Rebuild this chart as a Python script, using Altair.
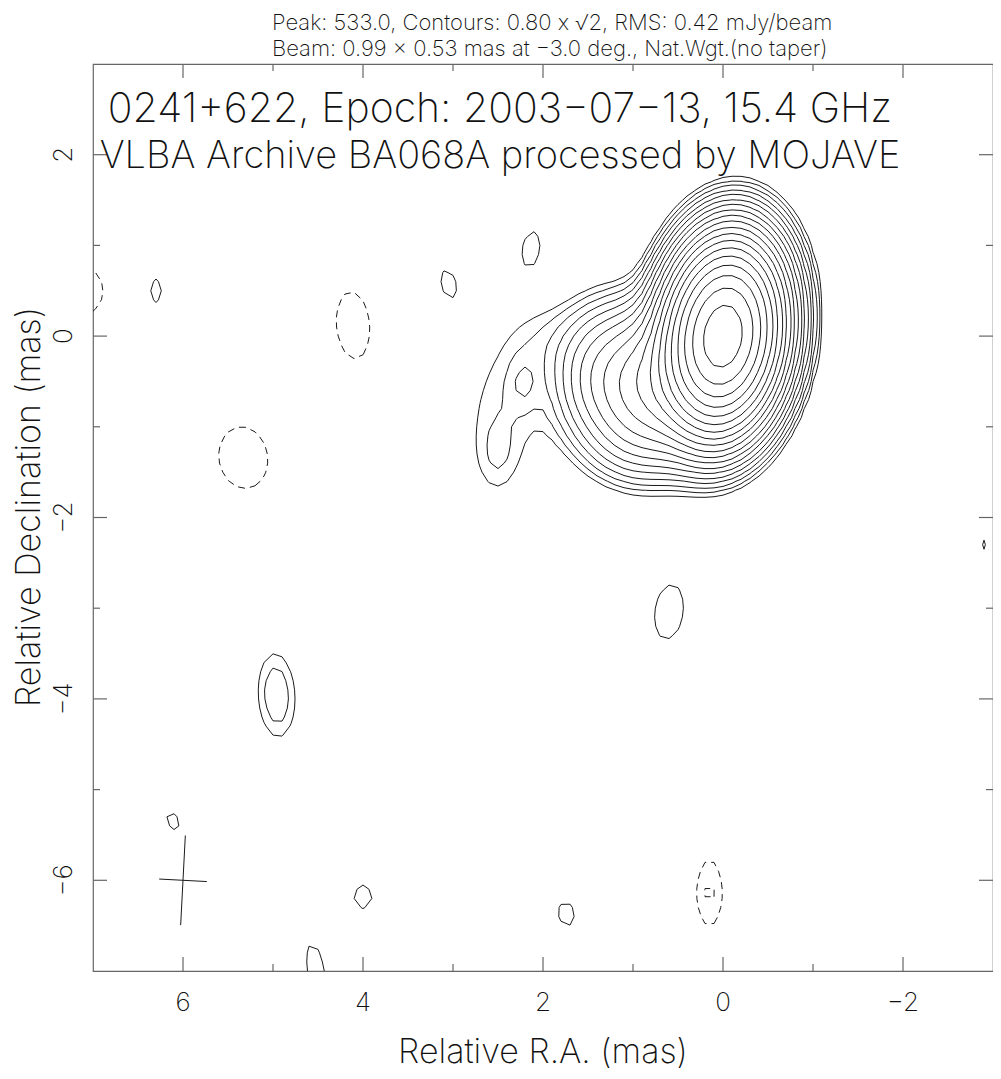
import numpy as np
import pandas as pd
import altair as alt

alt.data_transformers.disable_max_rows()

# ---------------- text ----------------
title_lines = ["Peak: 533.0, Contours: 0.80 x \u221a2, RMS: 0.42 mJy/beam",
               "Beam: 0.99 x 0.53 mas at \u22123.0 deg., Nat.Wgt.(no taper)"]
label_lines = ["0241+622, Epoch: 2003\u221207\u221213, 15.4 GHz",
               "VLBA Archive BA068A processed by MOJAVE"]
x_title = "Relative R.A. (mas)"
y_title = "Relative Declination (mas)"

# ---------------- map parameters ----------------
PEAK = 533.0
BASE_LEVEL = 0.80          # lowest contour (mJy/beam)
LEVEL_STEP = np.sqrt(2.0)  # contour factor
BEAM_MAJ = 0.99
BEAM_MIN = 0.53
BEAM_PA = -3.0
BEAM_CENTER = [6.0, -6.0]
PIXEL = 0.1                # map pixel (mas)

RA_RANGE = [7.0, -3.0]
DEC_RANGE = [-7.0, 3.0]
RA_MAJOR = [6, 4, 2, 0, -2]
RA_MINOR = [5, 3, 1, -1]
DEC_MAJOR = [2, 0, -2, -4, -6]
DEC_MINOR = [1, -1, -3, -5]
RA_LABELS = ["6", "4", "2", "0", "\u22122"]
DEC_LABELS = ["2", "0", "\u22122", "\u22124", "\u22126"]

# ---------------- brightness components ----------------
# flux (mJy/beam), RA offset, Dec offset, sigma major, sigma minor (mas), PA (deg)
comp_flux = [525.0, 22.0, 7.0, 0.95, 0.80, 0.75, 1.5, 0.60,
             1.0, 1.0, 1.05, -1.08, -1.10, -1.1, 1.5, 1.0, 1.0, 1.1, 1.1, 1.0, -1.2, 0.85]
comp_ra = [0.0, 0.80, 1.35, 2.40, 2.22, 2.52, 1.10, 2.00,
           6.30, 3.05, 2.13, 4.11, 5.33, 7.05, 4.96, 6.11, 4.00, 4.52, 0.60, 1.74, 0.15, -2.90]
comp_dec = [0.0, -0.55, -0.45, -0.70, -0.52, -1.38, -1.15, 0.00,
            0.50, 0.58, 0.97, 0.12, -1.34, 0.50, -3.96, -5.35, -6.18, -7.00, -3.04, -6.37, -6.14, -2.30]
comp_maj = [0.49, 0.45, 0.45, 0.60, 0.20, 0.34, 0.30, 0.30,
            0.20, 0.22, 0.25, 0.48, 0.43, 0.30, 0.41, 0.16, 0.20, 0.38, 0.38, 0.20, 0.40, 0.20]
comp_min = [0.30, 0.32, 0.30, 0.40, 0.11, 0.19, 0.30, 0.30,
            0.11, 0.12, 0.13, 0.24, 0.34, 0.20, 0.18, 0.11, 0.15, 0.12, 0.20, 0.14, 0.16, 0.10]
comp_pa = [-7.5, 0.0, 0.0, 0.0, 0.0, 0.0, 90.0, 0.0,
           0.0, 15.0, -10.0, 5.0, 10.0, 0.0, 3.0, 30.0, 0.0, 10.0, -8.0, 10.0, 0.0, 0.0]

# ---------------- model image on the map grid ----------------
xs = np.round(np.arange(-3.0, 7.0 + 1e-9, PIXEL), 4)
ys = np.round(np.arange(-7.0, 3.0 + 1e-9, PIXEL), 4)
GX, GY = np.meshgrid(xs, ys)
Z = np.zeros_like(GX)
for A, x0, y0, smaj, smin, pa in zip(comp_flux, comp_ra, comp_dec, comp_maj, comp_min, comp_pa):
    t = np.deg2rad(pa)
    dx, dy = GX - x0, GY - y0
    u = dx * np.sin(t) + dy * np.cos(t)
    v = dx * np.cos(t) - dy * np.sin(t)
    Z += A * np.exp(-0.5 * ((u / smaj) ** 2 + (v / smin) ** 2))


def contour_paths(lev):
    above = (Z >= lev).astype(int)
    idx = above[:-1, :-1] | (above[:-1, 1:] << 1) | (above[1:, 1:] << 2) | (above[1:, :-1] << 3)
    js, iis = np.nonzero((idx > 0) & (idx < 15))
    adj = {}

    def link(a, b):
        adj.setdefault(a, []).append(b)
        adj.setdefault(b, []).append(a)

    for j, i in zip(js.tolist(), iis.tolist()):
        c = int(idx[j, i])
        e0, e1, e2, e3 = ('h', i, j), ('v', i + 1, j), ('h', i, j + 1), ('v', i, j)
        if c in (1, 14):
            link(e3, e0)
        elif c in (2, 13):
            link(e0, e1)
        elif c in (3, 12):
            link(e3, e1)
        elif c in (4, 11):
            link(e1, e2)
        elif c in (6, 9):
            link(e0, e2)
        elif c in (7, 8):
            link(e3, e2)
        else:
            centre = Z[j:j + 2, i:i + 2].mean() >= lev
            if (c == 5) == centre:
                link(e0, e1); link(e2, e3)
            else:
                link(e3, e0); link(e1, e2)

    def point(key):
        k, i, j = key
        if k == 'h':
            z0, z1 = Z[j, i], Z[j, i + 1]
            f = (lev - z0) / (z1 - z0)
            return xs[i] + f * (xs[i + 1] - xs[i]), ys[j]
        z0, z1 = Z[j, i], Z[j + 1, i]
        f = (lev - z0) / (z1 - z0)
        return xs[i], ys[j] + f * (ys[j + 1] - ys[j])

    seen = set()

    def walk(start):
        path = [start]
        seen.add(start)
        cur = start
        while True:
            nxt = None
            for n in adj[cur]:
                if n not in seen:
                    nxt = n
                    break
            if nxt is None:
                return path
            path.append(nxt)
            seen.add(nxt)
            cur = nxt

    paths = []
    for k, v in adj.items():
        if len(v) == 1 and k not in seen:
            paths.append(walk(k))
    for k in adj:
        if k not in seen:
            p = walk(k)
            p.append(p[0])
            paths.append(p)
    return [[point(k) for k in p] for p in paths]


pos_levels, neg_levels = [], []
n = 0
while BASE_LEVEL * LEVEL_STEP ** n <= Z.max():
    pos_levels.append(BASE_LEVEL * LEVEL_STEP ** n)
    n += 1
n = 0
while -BASE_LEVEL * LEVEL_STEP ** n >= Z.min():
    neg_levels.append(-BASE_LEVEL * LEVEL_STEP ** n)
    n += 1

rows_pos, rows_neg = [], []
pid = 0
for levels, rows in ((pos_levels, rows_pos), (neg_levels, rows_neg)):
    for lev in levels:
        for path in contour_paths(lev):
            for o, (px, py) in enumerate(path):
                rows.append({"pid": pid, "ord": o, "ra": float(px), "dec": float(py), "level": lev})
            pid += 1
pos_df = pd.DataFrame(rows_pos)
neg_df = pd.DataFrame(rows_neg)

# beam cross
pa = np.deg2rad(BEAM_PA)
beam_df = pd.DataFrame({
    "ra": [BEAM_CENTER[0] - 0.5 * BEAM_MAJ * np.sin(pa), BEAM_CENTER[0] + 0.5 * BEAM_MIN * np.cos(pa)],
    "dec": [BEAM_CENTER[1] - 0.5 * BEAM_MAJ * np.cos(pa), BEAM_CENTER[1] - 0.5 * BEAM_MIN * np.sin(pa)],
    "ra2": [BEAM_CENTER[0] + 0.5 * BEAM_MAJ * np.sin(pa), BEAM_CENTER[0] - 0.5 * BEAM_MIN * np.cos(pa)],
    "dec2": [BEAM_CENTER[1] + 0.5 * BEAM_MAJ * np.cos(pa), BEAM_CENTER[1] + 0.5 * BEAM_MIN * np.sin(pa)],
})

# ---------------- chart ----------------
W, H = 900, 907
FONT = "Inter"
FW = 200
INK = "#1a1a1a"
TXT = "#111111"
FRAME = "#666666"
MAJ_LEN, MIN_LEN = 14, 7

xscale = alt.Scale(domain=RA_RANGE, nice=False, zero=False)
yscale = alt.Scale(domain=DEC_RANGE, nice=False, zero=False)


def X(field):
    return alt.X(field, scale=xscale, axis=None)


def Y(field):
    return alt.Y(field, scale=yscale, axis=None)


pos_layer = alt.Chart(pos_df).mark_line(stroke=INK, strokeWidth=1, clip=True).encode(
    x=X("ra:Q"), y=Y("dec:Q"), detail="pid:N", order="ord:Q")
neg_layer = alt.Chart(neg_df).mark_line(stroke=INK, strokeWidth=1, strokeDash=[7, 5], clip=True).encode(
    x=X("ra:Q"), y=Y("dec:Q"), detail="pid:N", order="ord:Q")
beam_layer = alt.Chart(beam_df).mark_rule(stroke=INK, strokeWidth=1).encode(
    x=X("ra:Q"), y=Y("dec:Q"), x2="ra2:Q", y2="dec2:Q")

tick_layers = []
for vals, ln in ((RA_MAJOR, MAJ_LEN), (RA_MINOR, MIN_LEN)):
    d = pd.DataFrame({"v": vals})
    for y0, y1 in ((H, H - ln), (0, ln)):
        tick_layers.append(alt.Chart(d).mark_rule(stroke=FRAME, strokeWidth=1.2).encode(
            x=X("v:Q"), y=alt.value(y0), y2=alt.value(y1)))
for vals, ln in ((DEC_MAJOR, MAJ_LEN), (DEC_MINOR, MIN_LEN)):
    d = pd.DataFrame({"v": vals})
    for x0, x1 in ((0, ln), (W, W - ln)):
        tick_layers.append(alt.Chart(d).mark_rule(stroke=FRAME, strokeWidth=1.2).encode(
            y=Y("v:Q"), x=alt.value(x0), x2=alt.value(x1)))

txt = dict(font=FONT, fontWeight=FW, color=TXT, baseline="alphabetic", align="center")

xlab = alt.Chart(pd.DataFrame({"v": RA_MAJOR, "t": RA_LABELS})).mark_text(fontSize=26, **txt).encode(
    x=X("v:Q"), y=alt.value(H + 40), text="t:N")
ylab = alt.Chart(pd.DataFrame({"v": DEC_MAJOR, "t": DEC_LABELS})).mark_text(fontSize=26, angle=270, **txt).encode(
    y=Y("v:Q"), x=alt.value(-21), text="t:N")
xtit = alt.Chart(pd.DataFrame({"t": [x_title]})).mark_text(fontSize=34, **txt).encode(
    x=alt.value(W / 2), y=alt.value(H + 92), text="t:N")
ytit = alt.Chart(pd.DataFrame({"t": [y_title]})).mark_text(fontSize=34, angle=270, **txt).encode(
    x=alt.value(-53), y=alt.value(443), text="t:N")

# header lines above the frame
head_layers = []
for line, ypos in zip(title_lines, (-34, -8)):
    head_layers.append(alt.Chart(pd.DataFrame({"t": [line]})).mark_text(
        font=FONT, fontWeight=FW, color=TXT, baseline="alphabetic", align="left", fontSize=22
    ).encode(x=alt.value(179), y=alt.value(ypos), text="t:N"))

# annotation inside the frame
text_layers = []
for line, ypos, fs in zip(label_lines, (58, 104), (41, 38)):
    text_layers.append(alt.Chart(pd.DataFrame({"t": [line]})).mark_text(fontSize=fs, **txt).encode(
        x=alt.value(407), y=alt.value(ypos), text="t:N"))

chart = alt.layer(pos_layer, neg_layer, beam_layer, *tick_layers, xlab, ylab, xtit, ytit,
                  *head_layers, *text_layers).properties(
    width=W, height=H,
    padding={"left": 85, "top": 56, "right": 0, "bottom": 99},
    autosize=alt.AutoSizeParams(type="none"),
    background="white",
).configure_view(stroke=FRAME, strokeWidth=1.2)

chart.save("out.html", embed_options={"renderer": "svg", "actions": False})
